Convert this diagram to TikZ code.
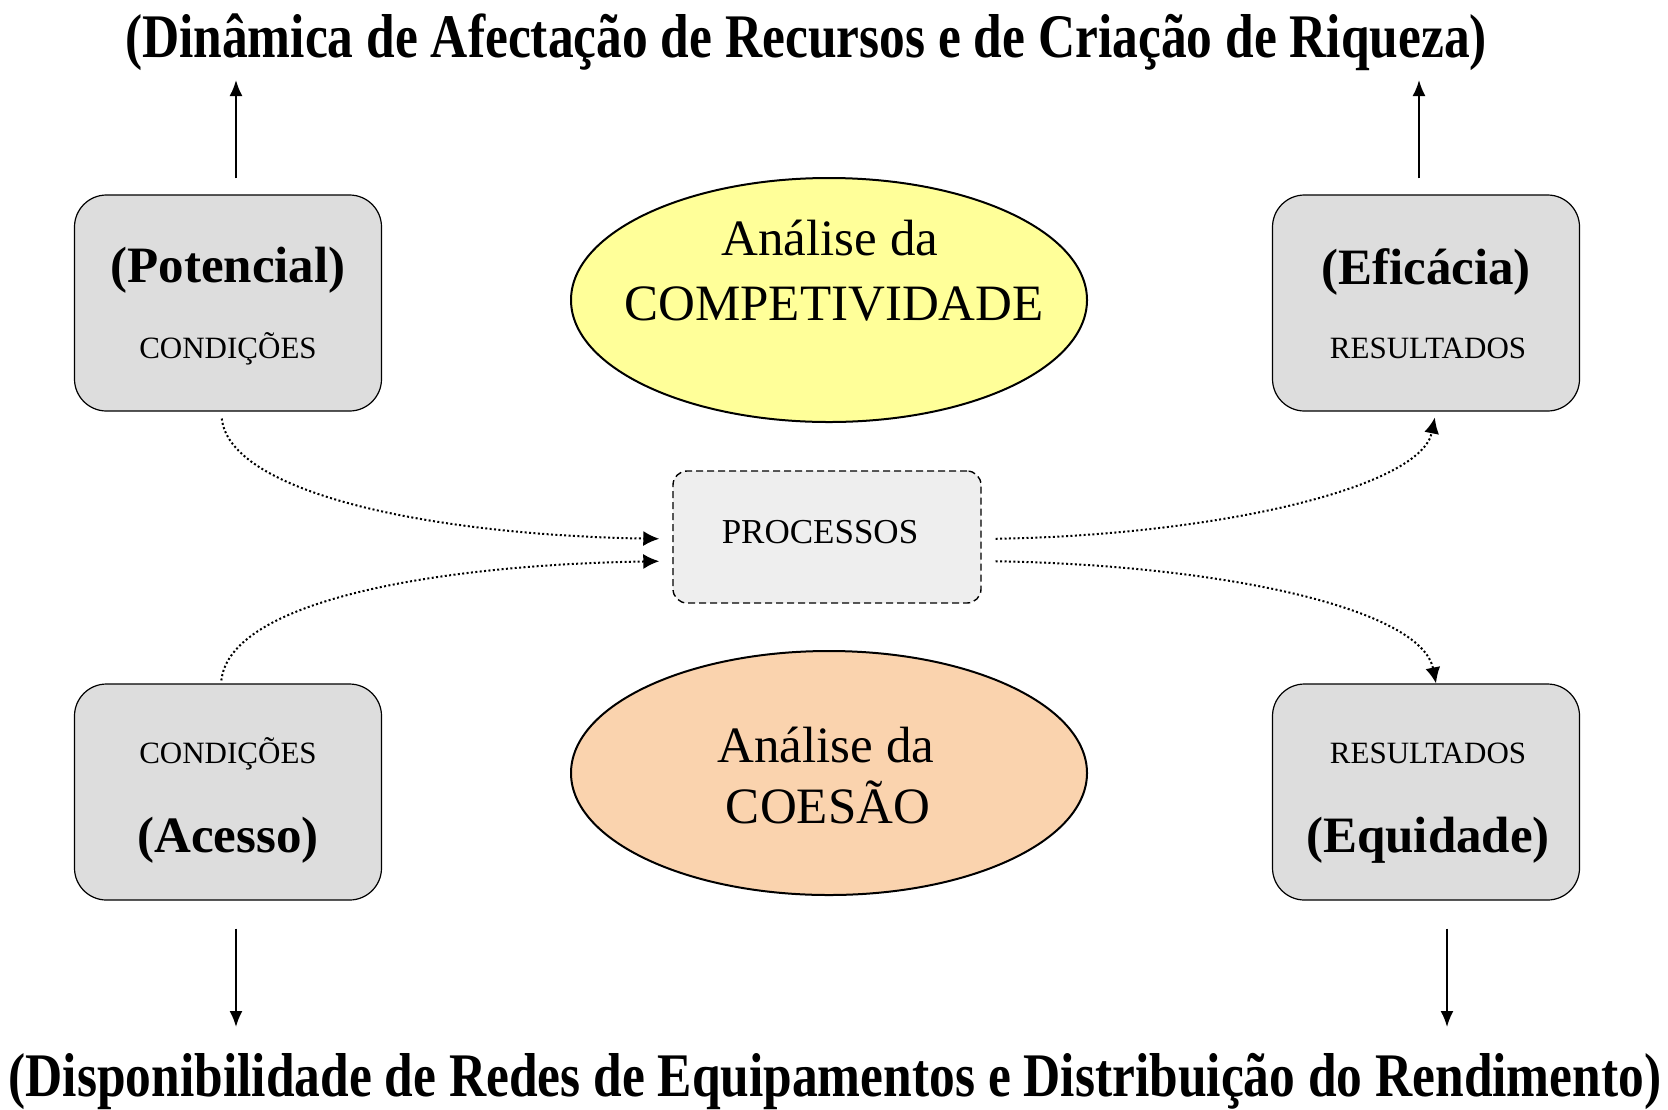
\documentclass[tikz,border=0pt]{standalone}
\usepackage{fontspec}
\setmainfont{Liberation Serif}
\usetikzlibrary{shapes.geometric,arrows.meta}
\definecolor{amarelo}{HTML}{FFFF99}
\definecolor{laranja}{HTML}{FAD3AE}
\definecolor{cinza}{HTML}{DDDDDD}
\definecolor{cinzaclaro}{HTML}{EEEEEE}
\newcommand{\titulo}[1]{\scalebox{.83}[1]{#1}}

\begin{document}
\begin{tikzpicture}[x=.5pt,y=-.5pt,
 caixa/.style={draw,line width=.6pt,fill=cinza,rounded corners=16pt,minimum width=153.5pt,minimum height=108pt},
 elipse/.style={draw,ellipse,line width=1pt,minimum width=258pt,minimum height=122pt,inner sep=0pt},
 procbox/.style={draw,line width=.7pt,dash pattern=on 3.5pt off 2pt,fill=cinzaclaro,rounded corners=7pt,minimum width=154pt,minimum height=66pt},
 grande/.style={font=\fontsize{31}{31}\selectfont\bfseries,anchor=base,inner sep=0pt},
 negrito/.style={font=\fontsize{25.5}{26}\selectfont\bfseries,anchor=base,inner sep=0pt},
 normal/.style={font=\fontsize{25.5}{26}\selectfont,anchor=base,inner sep=0pt},
 pequeno/.style={font=\fontsize{15.5}{16}\selectfont,anchor=base,inner sep=0pt},
 seta/.style={-{Latex[length=8pt,width=6.5pt]},line width=1pt},
 fluxo/.style={-{Latex[length=8pt,width=7.5pt]},line width=1pt,dash pattern=on 1pt off 1.2pt}]
\useasboundingbox (0,0) rectangle (1668,1109);
%
% titulos
\node[grande] (din) at (806,57) {\titulo{(Dinâmica de Afectação de Recursos e de Criação de Riqueza)}};
\node[grande] (disp) at (835,1096) {\titulo{(Disponibilidade de Redes de Equipamentos e Distribuição do Rendimento)}};
%
% elipses
\node[elipse,fill=amarelo] (comp) at (829,300) {};
\node[normal] (comp1) at (830,255) {Análise da};
\node[normal] (comp2) at (834,320) {COMPETIVIDADE};
\node[elipse,fill=laranja] (coes) at (829,773) {};
\node[normal] (coes1) at (826,762) {Análise da};
\node[normal] (coes2) at (828,823) {COESÃO};
%
% caixas
\node[caixa] (pot) at (228,303) {};
\node[negrito] (potT) at (228,282) {(Potencial)};
\node[pequeno] (potC) at (228,358) {CONDIÇÕES};
\node[caixa] (efi) at (1426,303) {};
\node[negrito] (efiT) at (1426,284) {(Eficácia)};
\node[pequeno] (efiR) at (1428,358) {RESULTADOS};
\node[caixa] (ace) at (228,792) {};
\node[pequeno] (aceC) at (228,763) {CONDIÇÕES};
\node[negrito] (aceT) at (228,852) {(Acesso)};
\node[caixa] (equ) at (1426,792) {};
\node[pequeno] (equR) at (1428,763) {RESULTADOS};
\node[negrito] (equT) at (1428,852) {(Equidade)};
%
\node[procbox] (proc) at (827,537) {};
\node[font=\fontsize{17.5}{18}\selectfont,anchor=base,inner sep=0pt] (procT) at (820,543) {PROCESSOS};
%
% setas verticais
\coordinate (t1) at (236,80);
\coordinate (t2) at (1419,80);
\coordinate (b1) at (236,1027);
\coordinate (b2) at (1447,1027);
\draw[seta,shorten <=8pt] (pot.north -| t1) -- (t1);
\draw[seta,shorten <=8pt] (efi.north -| t2) -- (t2);
\draw[seta,shorten <=14pt] (ace.south -| b1) -- (b1);
\draw[seta,shorten <=14pt] (equ.south -| b2) -- (b2);
%
% fluxos
\draw[fluxo,shorten <=3.5pt,shorten >=6.5pt] ([xshift=-3.5pt]pot.south) .. controls +(9,82) and +(-240,-4) .. ([yshift=-1pt]proc.west);
\draw[fluxo,shorten <=1.5pt,shorten >=6.5pt] ([xshift=-3.5pt]ace.north) .. controls +(9,-82) and +(-240,4) .. ([yshift=-12pt]proc.west);
\draw[fluxo,shorten <=7pt,shorten >=3pt] ([yshift=-1pt]proc.east) .. controls +(240,-4) and +(-15,75) .. ([xshift=5pt]efi.south);
\draw[fluxo,shorten <=7pt,shorten >=0pt] ([yshift=-12pt]proc.east) .. controls +(240,4) and +(-15,-75) .. ([xshift=5pt]equ.north);
\end{tikzpicture}
\end{document}
